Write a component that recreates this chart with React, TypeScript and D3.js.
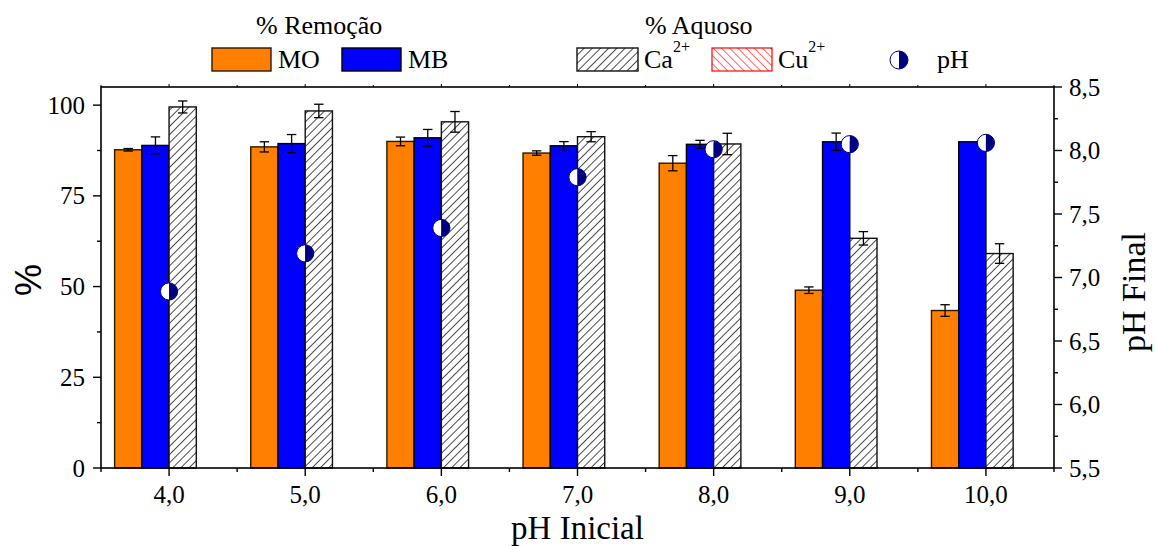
import React from "react";
import * as d3 from "d3";

const categories = [4, 5, 6, 7, 8, 9, 10];
const moValues = [87.7, 88.5, 90.0, 86.8, 84.0, 49.0, 43.4];
const moErrors = [0.35, 1.4, 1.2, 0.6, 2.1, 0.9, 1.6];
const mbValues = [88.9, 89.4, 91.0, 88.8, 89.2, 89.9, 89.9];
const mbErrors = [2.35, 2.5, 2.3, 1.15, 1.1, 2.4, 0];
const caValues = [99.5, 98.4, 95.4, 91.3, 89.3, 63.3, 59.1];
const caErrors = [1.65, 1.85, 2.85, 1.4, 2.95, 1.85, 2.7];
const phFinal = [6.89, 7.19, 7.39, 7.79, 8.01, 8.05, 8.06];

const leftTicks = [0, 25, 50, 75, 100];
const leftMinor = [12.5, 37.5, 62.5, 87.5];
const rightTicks = [5.5, 6.0, 6.5, 7.0, 7.5, 8.0, 8.5];
const rightMinor = [5.75, 6.25, 6.75, 7.25, 7.75, 8.25];
const xMinor = [3.5, 4.5, 5.5, 6.5, 7.5, 8.5, 9.5, 10.5];

const W = 1155;
const H = 546;
const L = 101, R = 1054, T = 87, B = 468;
const SERIF = "'Liberation Serif', 'Times New Roman', serif";
const NAVY = "#000080";

const fmt = (v: number) => v.toFixed(1).replace(".", ",");

export default function App() {
  const x = d3.scaleLinear().domain([3.5, 10.5]).range([L, R]);
  const y = d3.scaleLinear().domain([0, 105]).range([B, T]);
  const y2 = d3.scaleLinear().domain([5.5, 8.5]).range([B, T]);
  const bw = 0.2;

  const series = [
    { vals: moValues, errs: moErrors, off: -0.4, fill: "#FF8000", stroke: "#2b1600" },
    { vals: mbValues, errs: mbErrors, off: -0.2, fill: "#0000FF", stroke: "#000000" },
    { vals: caValues, errs: caErrors, off: 0, fill: "url(#hatchCa)", stroke: "#111111" },
  ];

  const halfCircle = (cx: number, cy: number, r: number, key?: string) => (
    <g key={key}>
      <path d={`M${cx},${cy - r} A${r},${r} 0 0,0 ${cx},${cy + r} Z`} fill="#ffffff" />
      <path d={`M${cx},${cy - r} A${r},${r} 0 0,1 ${cx},${cy + r} Z`} fill={NAVY} />
      <circle cx={cx} cy={cy} r={r} fill="none" stroke={NAVY} strokeWidth={1} />
    </g>
  );

  return (
    <svg width={W} height={H} style={{ position: "absolute", left: 0, top: 0, background: "#fff" }}>
      <defs>
        <pattern id="hatchCa" patternUnits="userSpaceOnUse" width={5.8} height={5.8} patternTransform="rotate(45)">
          <rect width={5.8} height={5.8} fill="#ffffff" />
          <line x1={0} y1={0} x2={0} y2={5.8} stroke="#000" strokeWidth={1.4} />
        </pattern>
        <pattern id="hatchCu" patternUnits="userSpaceOnUse" width={5.8} height={5.8} patternTransform="rotate(-45)">
          <rect width={5.8} height={5.8} fill="#ffffff" />
          <line x1={0} y1={0} x2={0} y2={5.8} stroke="#ff0000" strokeWidth={1.2} />
        </pattern>
      </defs>

      {/* bars */}
      {series.map((s, si) =>
        s.vals.map((v, i) => {
          const x0 = x(categories[i] + s.off);
          const x1 = x(categories[i] + s.off + bw);
          return (
            <rect key={`b${si}-${i}`} x={x0} y={y(v)} width={x1 - x0} height={y(0) - y(v)}
              fill={s.fill} stroke={s.stroke} strokeWidth={1.4} />
          );
        })
      )}

      {/* error bars */}
      {series.map((s, si) =>
        s.vals.map((v, i) => {
          const e = s.errs[i];
          if (!e) return null;
          const cx = x(categories[i] + s.off + bw / 2);
          const cap = 4.7;
          return (
            <g key={`e${si}-${i}`} stroke="#000" strokeWidth={1.3}>
              <line x1={cx} x2={cx} y1={y(v + e)} y2={y(v - e)} />
              <line x1={cx - cap} x2={cx + cap} y1={y(v + e)} y2={y(v + e)} />
              <line x1={cx - cap} x2={cx + cap} y1={y(v - e)} y2={y(v - e)} />
            </g>
          );
        })
      )}

      {/* pH markers */}
      {phFinal.map((p, i) => halfCircle(x(categories[i]), y2(p), 8.6, `p${i}`))}

      {/* frame */}
      <rect x={L} y={T} width={R - L} height={B - T} fill="none" stroke="#000" strokeWidth={1.6} />

      {/* left axis */}
      {leftTicks.map((t) => (
        <g key={`lt${t}`}>
          <line x1={L - 8} x2={L} y1={y(t)} y2={y(t)} stroke="#000" strokeWidth={1.4} />
          <text x={85} y={y(t)} dominantBaseline="central" textAnchor="end" fontFamily={SERIF} fontSize={25}>{t}</text>
        </g>
      ))}
      {leftMinor.map((t) => (
        <line key={`lm${t}`} x1={L - 4} x2={L} y1={y(t)} y2={y(t)} stroke="#000" strokeWidth={1.4} />
      ))}

      {/* right axis */}
      {rightTicks.map((t) => (
        <g key={`rt${t}`}>
          <line x1={R} x2={R + 8} y1={y2(t)} y2={y2(t)} stroke="#000" strokeWidth={1.4} />
          <text x={1069} y={y2(t)} dominantBaseline="central" textAnchor="start" fontFamily={SERIF} fontSize={25}>{fmt(t)}</text>
        </g>
      ))}
      {rightMinor.map((t) => (
        <line key={`rm${t}`} x1={R} x2={R + 4} y1={y2(t)} y2={y2(t)} stroke="#000" strokeWidth={1.4} />
      ))}

      {/* bottom axis */}
      {categories.map((c) => (
        <g key={`bt${c}`}>
          <line x1={x(c)} x2={x(c)} y1={B} y2={B + 8} stroke="#000" strokeWidth={1.4} />
          <line x1={x(c)} x2={x(c)} y1={T} y2={T - 3} stroke="#000" strokeWidth={1} />
          <text x={x(c)} y={503} textAnchor="middle" fontFamily={SERIF} fontSize={25}>{fmt(c)}</text>
        </g>
      ))}
      {xMinor.map((c) => (
        <g key={`bm${c}`}>
          <line x1={x(c)} x2={x(c)} y1={B} y2={B + 4} stroke="#000" strokeWidth={1.4} />
          <line x1={x(c)} x2={x(c)} y1={T} y2={T - 2} stroke="#000" strokeWidth={1} />
        </g>
      ))}

      {/* axis titles */}
      <text x={(L + R) / 2} y={538.5} textAnchor="middle" fontFamily={SERIF} fontSize={33}>pH Inicial</text>
      <text transform={`translate(1145, 292) rotate(-90)`} textAnchor="middle" fontFamily={SERIF} fontSize={34}>pH Final</text>
      <text transform={`translate(41, 280) rotate(-90)`} textAnchor="middle" fontFamily="'Liberation Sans', Arial, sans-serif" fontSize={36}>%</text>

      {/* legend */}
      <g fontFamily={SERIF} fontSize={26}>
        <text x={256} y={34}>% Remoção</text>
        <text x={645} y={34}>% Aquoso</text>

        <rect x={212} y={48} width={59} height={23} fill="#FF8000" stroke="#2b1600" strokeWidth={1.4} />
        <text x={278} y={68}>MO</text>
        <rect x={342} y={48} width={59} height={23} fill="#0000FF" stroke="#000" strokeWidth={1.4} />
        <text x={408} y={68}>MB</text>

        <rect x={577} y={48} width={61} height={23} fill="url(#hatchCa)" stroke="#111" strokeWidth={1.4} />
        <text x={644} y={68}>Ca<tspan fontSize={16} dy={-16}>2+</tspan></text>
        <rect x={712} y={48} width={60} height={23} fill="url(#hatchCu)" stroke="#ff0000" strokeWidth={1.2} />
        <text x={778} y={68}>Cu<tspan fontSize={16} dy={-16}>2+</tspan></text>

        {halfCircle(899, 60, 9)}
        <text x={937} y={68}>pH</text>
      </g>
    </svg>
  );
}
